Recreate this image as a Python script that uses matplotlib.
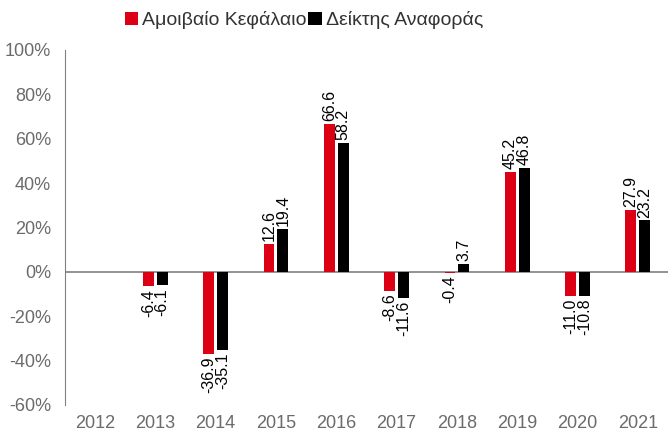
import matplotlib.pyplot as plt
import numpy as np

years = ["2012", "2013", "2014", "2015", "2016", "2017", "2018", "2019", "2020", "2021"]
fund = [np.nan, -6.4, -36.9, 12.6, 66.6, -8.6, -0.4, 45.2, -11.0, 27.9]
bench = [np.nan, -6.1, -35.1, 19.4, 58.2, -11.6, 3.7, 46.8, -10.8, 23.2]
names = ["Αμοιβαίο Κεφάλαιο", "Δείκτης Αναφοράς"]

plt.rcParams['font.family'] = ['Liberation Sans', 'DejaVu Sans']

fig = plt.figure(figsize=(6.68, 4.34), dpi=100)
ax = fig.add_axes([0.097, 0.067, 0.903, 0.818])

x = np.arange(len(years))
w = 0.18
off = 0.115
b1 = ax.bar(x - off, fund, w, color='#DC0014', label=names[0])
b2 = ax.bar(x + off, bench, w, color='#000000', label=names[1])

for bars, vals in ((b1, fund), (b2, bench)):
    for bar, v in zip(bars, vals):
        if np.isnan(v):
            continue
        xc = bar.get_x() + bar.get_width() / 2
        if v >= 0:
            ax.annotate(f"{v:.1f}", (xc, v), xytext=(0, 2), textcoords='offset points',
                        rotation=90, ha='center', va='bottom', fontsize=11.5)
        else:
            ax.annotate(f"{v:.1f}", (xc, v), xytext=(0, -2), textcoords='offset points',
                        rotation=90, ha='center', va='top', fontsize=11.5)

ax.set_xlim(-0.5, 9.5)
ax.set_ylim(-60, 100)
ax.set_yticks(np.arange(-60, 101, 20))
ax.set_yticklabels([f"{t}%" for t in range(-60, 101, 20)])
ax.set_xticks(x)
ax.set_xticklabels(years)
ax.tick_params(axis='both', length=0, labelsize=13, colors='#6b6b6b')
ax.tick_params(axis='x', pad=7)
ax.tick_params(axis='y', pad=10)

for s in ('top', 'right', 'bottom'):
    ax.spines[s].set_visible(False)
ax.spines['left'].set_color('#808080')
ax.axhline(0, color='#808080', lw=1.2, zorder=0)

fig.legend(loc='center', bbox_to_anchor=(0.455, 0.953), ncol=2, frameon=False,
           fontsize=14, handlelength=0.7, handleheight=0.7, handletextpad=0.2,
           columnspacing=0.1, labelcolor='#333333')

fig.savefig("out.png", dpi=100)
